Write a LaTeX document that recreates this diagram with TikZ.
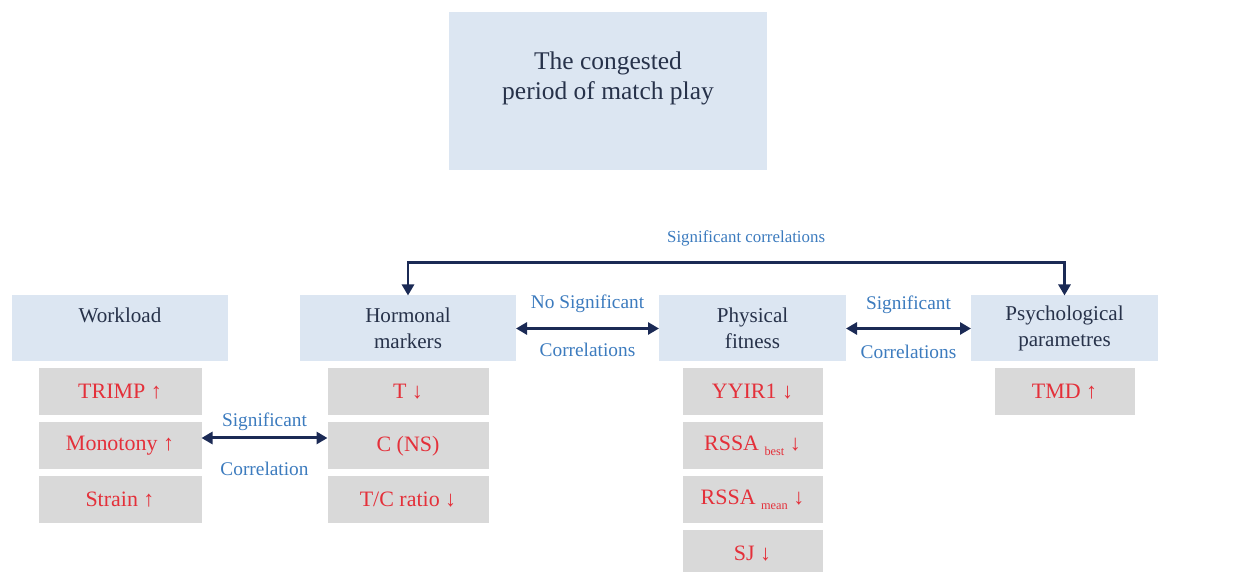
\documentclass[tikz,border=0pt]{standalone}
\usepackage{fontspec}
\setmainfont{Liberation Serif}
\usetikzlibrary{arrows.meta, positioning, calc}
\definecolor{chead}{HTML}{DCE6F2}
\definecolor{citem}{HTML}{D9D9D9}
\definecolor{cred}{HTML}{E4303A}
\definecolor{cnavy}{HTML}{1B2A55}
\definecolor{clink}{HTML}{3C7BBE}
\definecolor{ctext}{HTML}{27324A}
\tikzset{
  every picture/.style={line width=1.7pt},
  head/.style={fill=chead, align=center, text=ctext, minimum height=1.32cm, inner sep=2pt, outer sep=0pt, font=\fontsize{12}{14.8}\selectfont},
  item/.style={fill=citem, text=cred, minimum height=0.94cm, inner sep=2pt, outer sep=0pt, font=\fontsize{12.5}{15}\selectfont},
  biarrow/.style={{Triangle[length=2.2mm, width=2.4mm]}-{Triangle[length=2.2mm, width=2.4mm]}, draw=cnavy},
  lbl/.style={text=clink, font=\fontsize{11}{13}\selectfont, inner sep=1pt},
}
\newcommand{\lowsub}[1]{\raisebox{-0.45ex}{\fontsize{7}{8}\selectfont #1}}

\begin{document}
\begin{tikzpicture}[node distance=0.14cm]
  \useasboundingbox (0,0) rectangle (24.96,11.44);
  \clip (0,0) rectangle (24.96,11.44);
  \node[head, minimum width=6.36cm, minimum height=3.16cm, font=\fontsize{14.5}{17.5}\selectfont] (period) at (12.16,9.62) {The congested\\period of match play\\\mbox{}};
  \node[head, minimum width=4.32cm] (work) at (2.40,4.87) {Workload\\\mbox{}};
  \node[head, minimum width=4.32cm] (horm) at (8.16,4.87) {Hormonal\\markers};
  \node[head, minimum width=3.74cm] (phys) at (15.05,4.87) {Physical\\fitness};
  \node[head, minimum width=3.74cm] (psych) at (21.29,4.87) {Psychological\\parametres};
  % workload
  \node[item, minimum width=3.26cm, below=of work] (trimp) {TRIMP ↑};
  \node[item, minimum width=3.26cm, below=of trimp] (mono) {Monotony ↑};
  \node[item, minimum width=3.26cm, below=of mono] (strain) {Strain ↑};
  % hormonal markers
  \node[item, minimum width=3.22cm, below=of horm] (tt) {T ↓};
  \node[item, minimum width=3.22cm, below=of tt] (cns) {C (NS)};
  \node[item, minimum width=3.22cm, below=of cns] (tcr) {T/C ratio ↓};
  % physical fitness
  \node[item, minimum width=2.80cm, below=of phys] (yyir) {YYIR1 ↓};
  \node[item, minimum width=2.80cm, below=of yyir] (best) {RSSA \lowsub{best} ↓};
  \node[item, minimum width=2.80cm, below=of best] (mean) {RSSA \lowsub{mean} ↓};
  \node[item, minimum width=2.80cm, below=of mean] (sj) {SJ ↓};
  % psychological parametres
  \node[item, minimum width=2.80cm, below=of psych] (tmd) {TMD ↑};
  \coordinate (topline) at (0,6.18);
  \draw[biarrow] (horm.north) -- (horm.north |- topline) -- node[pos=0.515, lbl, above=0.28cm, font=\fontsize{9.6}{11}\selectfont]{Significant correlations} (psych.north |- topline) -- (psych.north);
  \draw[biarrow] (horm.east) -- node[lbl, above=0.26cm]{No Significant} node[lbl, below=0.22cm]{Correlations} (phys.west);
  \draw[biarrow] (phys.east) -- node[lbl, above=0.23cm]{Significant} node[lbl, below=0.27cm]{Correlations} (psych.west);
  \draw[biarrow] ([yshift=0.16cm]mono.east) -- node[lbl, above=0.09cm]{Significant} node[lbl, below=0.41cm]{Correlation} ([yshift=0.16cm]cns.west);
\end{tikzpicture}
\end{document}
